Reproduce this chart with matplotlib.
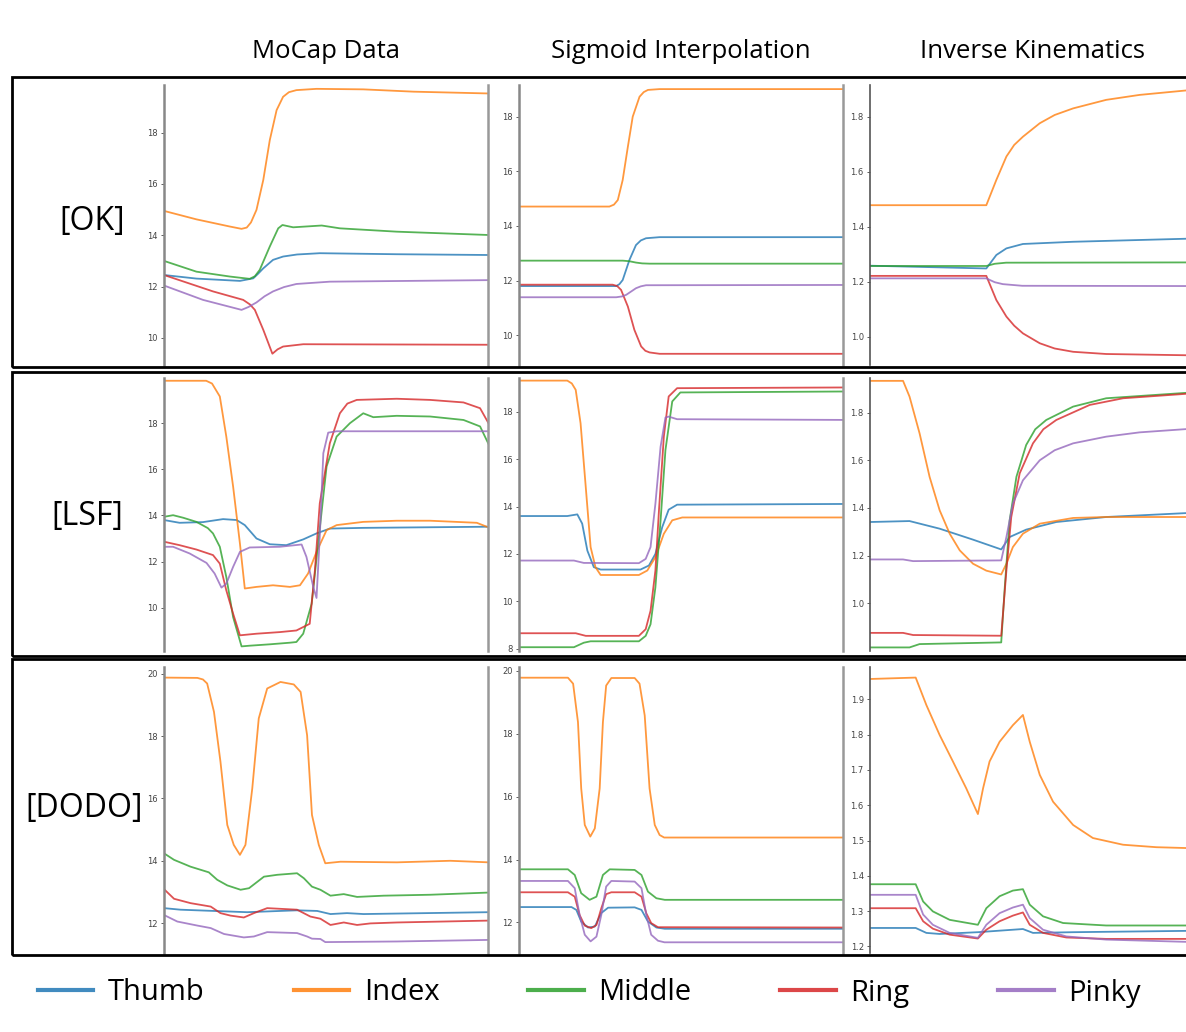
import matplotlib
matplotlib.use("Agg")
import matplotlib.pyplot as plt
from matplotlib.patches import Rectangle
from matplotlib.lines import Line2D

# finger names and matplotlib default colours
fingers = ["Thumb", "Index", "Middle", "Ring", "Pinky"]
colors = ["#1f77b4", "#ff7f0e", "#2ca02c", "#d62728", "#9467bd"]

col_titles = ["MoCap Data", "Sigmoid Interpolation", "Inverse Kinematics"]
row_labels = ["[OK]", "[LSF]", "[DODO]"]

# each curve: list of (time %, value)
ok_mocap = {
    "Thumb": [(0, 12.45), (10, 12.31), (23.4, 12.22), (27.5, 12.32), (29, 12.5), (30.6, 12.71),
              (33.6, 13.04), (36.7, 13.17), (41, 13.25), (48, 13.3), (71.7, 13.26), (100, 13.23)],
    "Index": [(0, 14.95), (10, 14.62), (20.3, 14.34), (23.9, 14.25), (25.5, 14.3), (26.8, 14.5),
              (28.5, 14.99), (30.6, 16.16), (32.6, 17.71), (34.7, 18.88), (36.7, 19.4), (38.5, 19.58),
              (40.8, 19.66), (47, 19.71), (61.4, 19.69), (76.9, 19.6), (100, 19.53)],
    "Middle": [(0, 13.0), (10, 12.58), (20.3, 12.39), (26.4, 12.3), (28, 12.4), (29.5, 12.65),
               (32.6, 13.56), (35.2, 14.27), (36.5, 14.4), (39.8, 14.31), (48.6, 14.38), (54.2, 14.27),
               (71.7, 14.14), (100, 14.01)],
    "Ring": [(0, 12.45), (15.1, 11.81), (24.4, 11.48), (26.5, 11.3), (28, 11.09), (30.6, 10.31),
             (33.4, 9.38), (35, 9.55), (36.7, 9.66), (42.9, 9.75), (100, 9.73)],
    "Pinky": [(0, 12.04), (12, 11.48), (23.9, 11.09), (26, 11.2), (28.5, 11.38), (31, 11.62),
              (33.6, 11.81), (37, 11.98), (40.8, 12.1), (51.1, 12.19), (100, 12.25)],
}
ok_sigmoid = {
    "Thumb": [(0, 11.8), (30, 11.8), (31, 11.87), (32, 12.02), (34.1, 12.76), (36.1, 13.3),
              (37.6, 13.47), (39.2, 13.55), (43.4, 13.59), (100, 13.59)],
    "Index": [(0, 14.71), (27.9, 14.71), (29.3, 14.78), (30.5, 14.95), (32, 15.68), (33.6, 16.9),
              (35.1, 18.0), (37.2, 18.73), (38.5, 18.9), (39.8, 18.98), (43.4, 19.01), (100, 19.01)],
    "Middle": [(0, 12.73), (32, 12.73), (34, 12.71), (36.1, 12.66), (38, 12.63), (40.3, 12.62),
               (100, 12.62)],
    "Ring": [(0, 11.85), (28.9, 11.85), (30.3, 11.8), (31.5, 11.66), (33.6, 11.05), (35.6, 10.2),
             (37.7, 9.59), (39, 9.43), (40.3, 9.37), (43.4, 9.32), (100, 9.32)],
    "Pinky": [(0, 11.39), (30, 11.39), (31.8, 11.42), (33.1, 11.48), (36.1, 11.72), (37.6, 11.79),
              (39.2, 11.83), (100, 11.84)],
}
ok_ik = {
    "Thumb": [(0, 1.258), (35.9, 1.248), (39, 1.297), (42.1, 1.321), (47.2, 1.337), (62.7, 1.345),
              (97.4, 1.356), (100, 1.357)],
    "Index": [(0, 1.478), (35.9, 1.478), (39, 1.57), (42.1, 1.655), (44.5, 1.697), (47.2, 1.727),
              (52.4, 1.776), (57, 1.806), (62.7, 1.83), (72.9, 1.861), (83.2, 1.879), (97.4, 1.895),
              (100, 1.897)],
    "Middle": [(0, 1.257), (35.9, 1.257), (38.5, 1.265), (42, 1.269), (100, 1.27)],
    "Ring": [(0, 1.221), (35.9, 1.221), (39, 1.133), (42.1, 1.073), (44.5, 1.04), (47.2, 1.012),
             (52.4, 0.976), (57, 0.957), (62.7, 0.945), (72.9, 0.937), (100, 0.932)],
    "Pinky": [(0, 1.212), (35.9, 1.212), (38.5, 1.198), (41, 1.191), (47, 1.185), (100, 1.184)],
}

lsf_mocap = {
    "Thumb": [(0, 13.8), (4.8, 13.68), (12, 13.71), (18.2, 13.84), (22.4, 13.8), (24.9, 13.58),
              (28.5, 13.0), (32.6, 12.75), (37.7, 12.71), (42.9, 12.96), (47, 13.22), (51.1, 13.43),
              (61.4, 13.46), (100, 13.51)],
    "Index": [(0, 19.84), (13, 19.84), (14.8, 19.72), (17.2, 19.16), (19.2, 17.42), (21.3, 15.25),
              (23.4, 12.78), (24.9, 10.83), (28.5, 10.9), (33.6, 10.97), (38.8, 10.9), (41.9, 10.97),
              (44.4, 11.48), (47, 12.42), (50.1, 13.36), (53.2, 13.58), (61.4, 13.72), (71.7, 13.77),
              (82, 13.77), (96.4, 13.68), (100, 13.48)],
    "Middle": [(0, 13.94), (2.8, 14.01), (5.9, 13.9), (10, 13.72), (13.5, 13.45), (15.1, 13.22),
               (17.2, 12.64), (19.2, 11.33), (21.3, 9.59), (23.9, 8.32), (26.4, 8.35), (32.6, 8.41),
               (38.8, 8.48), (40.8, 8.51), (42.9, 8.87), (45.5, 10.17), (47.5, 12.78), (50.1, 16.12),
               (53.2, 17.42), (57.3, 18.0), (61.4, 18.43), (64.5, 18.26), (71.7, 18.32), (82, 18.29),
               (92.3, 18.14), (97.4, 17.86), (100, 17.1)],
    "Ring": [(0, 12.86), (4.8, 12.71), (10, 12.52), (15.1, 12.28), (17.2, 11.91), (19.2, 10.75),
             (21.3, 9.74), (23.4, 8.8), (28.5, 8.87), (35.7, 8.94), (40.8, 9.01), (44.9, 9.3),
             (46.5, 11.62), (48, 14.52), (51.1, 17.13), (54.2, 18.43), (56.5, 18.85), (59.4, 19.01),
             (71.7, 19.06), (82, 19.01), (92.3, 18.9), (97.4, 18.65), (100, 18.0)],
    "Pinky": [(0, 12.64), (2.8, 12.64), (7.9, 12.35), (13.1, 11.94), (15.6, 11.48), (17.7, 10.87),
              (19.2, 11.04), (21.3, 11.77), (23.4, 12.42), (26.4, 12.61), (35.7, 12.64), (42.4, 12.74),
              (43.9, 12.2), (46, 10.9), (47, 10.42), (48, 13.07), (49.1, 16.7), (50.6, 17.59),
              (53.2, 17.65), (100, 17.65)],
}
lsf_sigmoid = {
    "Thumb": [(0, 13.6), (14.9, 13.6), (18, 13.67), (19.5, 13.28), (21.1, 12.14), (23.1, 11.44),
              (25.2, 11.34), (37.5, 11.34), (40.1, 11.51), (42.1, 12.0), (44.2, 13.13), (46.2, 13.87),
              (48.8, 14.08), (100, 14.11)],
    "Index": [(0, 19.32), (14.9, 19.32), (16.3, 19.2), (17.5, 18.93), (19, 17.52), (20.6, 14.83),
              (22.1, 12.29), (23.6, 11.44), (25.2, 11.11), (37, 11.11), (39.6, 11.3), (42.1, 11.86),
              (44.7, 12.85), (47.3, 13.42), (50.4, 13.54), (100, 13.54)],
    "Middle": [(0, 8.06), (16.95, 8.06), (20, 8.25), (22.1, 8.31), (37, 8.31), (39.1, 8.54),
               (40.6, 9.03), (42.1, 10.59), (43.7, 13.42), (45.2, 16.39), (47.3, 18.44), (49.8, 18.82),
               (100, 18.86)],
    "Ring": [(0, 8.65), (17.5, 8.65), (20.6, 8.54), (37, 8.54), (39.1, 8.82), (40.6, 9.6),
             (42.1, 11.3), (43.2, 13.84), (44.7, 16.95), (46.2, 18.65), (48.8, 19.0), (100, 19.03)],
    "Pinky": [(0, 11.72), (16.95, 11.72), (20, 11.62), (37, 11.61), (39.1, 11.79), (40.6, 12.29),
              (42.1, 14.12), (43.7, 16.53), (45.2, 17.76), (46.2, 17.8), (48.8, 17.69), (100, 17.66)],
}
lsf_ik = {
    "Thumb": [(0, 1.341), (12.2, 1.345), (21.5, 1.313), (31.8, 1.267), (40.5, 1.226), (43.1, 1.278),
              (48.2, 1.309), (57.5, 1.341), (72.9, 1.362), (100, 1.38)],
    "Index": [(0, 1.933), (10.2, 1.933), (12.2, 1.867), (15.3, 1.713), (18.4, 1.53), (21.5, 1.39),
              (24.6, 1.292), (27.7, 1.222), (31.8, 1.166), (35.9, 1.137), (40.5, 1.121), (42.1, 1.166),
              (44.1, 1.236), (47.2, 1.292), (52.4, 1.334), (62.7, 1.358), (72.9, 1.362), (100, 1.362)],
    "Middle": [(0, 0.815), (12.2, 0.815), (15.3, 0.829), (40.5, 0.836), (41.6, 1.068), (43.1, 1.348),
               (45.2, 1.531), (48.2, 1.664), (51, 1.73), (54.4, 1.769), (62.7, 1.825), (72.9, 1.86),
               (100, 1.885)],
    "Ring": [(0, 0.876), (10.2, 0.876), (13.3, 0.867), (40.5, 0.864), (42.1, 1.138), (43.6, 1.362),
             (46.2, 1.545), (50.3, 1.671), (53.5, 1.73), (57.5, 1.769), (67.8, 1.832), (78.1, 1.86),
             (100, 1.881)],
    "Pinky": [(0, 1.184), (10.2, 1.184), (13.3, 1.177), (40.5, 1.18), (42.1, 1.278), (44.1, 1.418),
              (47.2, 1.516), (52.4, 1.6), (57, 1.642), (62.7, 1.671), (72.9, 1.699), (83.2, 1.717),
              (100, 1.733)],
}

dodo_mocap = {
    "Thumb": [(0, 12.48), (5.1, 12.43), (20.5, 12.37), (25.6, 12.35), (41, 12.41), (47.2, 12.39),
              (51.3, 12.29), (56.4, 12.32), (61.5, 12.29), (100, 12.35)],
    "Index": [(0, 19.88), (10.3, 19.87), (12, 19.82), (13.3, 19.69), (15.4, 18.78), (17.4, 17.18),
              (19.5, 15.15), (21.5, 14.51), (23.4, 14.19), (25.1, 14.51), (27.2, 16.32), (29.2, 18.57),
              (31.8, 19.53), (35.9, 19.74), (40, 19.66), (42.1, 19.42), (44.1, 18.03), (45.6, 15.47),
              (47.7, 14.51), (49.7, 13.92), (54.4, 13.97), (71.8, 13.95), (88.2, 14.0), (100, 13.95)],
    "Middle": [(0, 14.24), (3.1, 14.03), (8.2, 13.81), (13.8, 13.63), (16.4, 13.39), (19.5, 13.21),
               (23.6, 13.07), (26.2, 13.12), (30.8, 13.49), (34.9, 13.55), (41, 13.6), (43.1, 13.44),
               (45.6, 13.17), (48.2, 13.07), (51.3, 12.88), (55.4, 12.93), (59.5, 12.84), (67.7, 12.88),
               (82.1, 12.91), (100, 12.98)],
    "Ring": [(0, 13.09), (3.1, 12.78), (8.2, 12.64), (14.4, 12.53), (17.4, 12.32), (20.5, 12.24),
             (24.6, 12.18), (27.7, 12.32), (31.8, 12.48), (41, 12.43), (45.1, 12.21), (48.2, 12.14),
             (51.3, 11.94), (55.4, 12.02), (59.5, 11.94), (63.6, 11.99), (71.8, 12.02), (100, 12.08)],
    "Pinky": [(0, 12.26), (4.1, 12.05), (10.3, 11.92), (14.4, 11.84), (18.5, 11.65), (24.6, 11.54),
              (27.7, 11.57), (31.8, 11.71), (41, 11.68), (44.1, 11.57), (45.6, 11.5), (48.2, 11.49),
              (49.7, 11.39), (71.8, 11.41), (100, 11.46)],
}
dodo_sigmoid = {
    "Thumb": [(0, 12.49), (16.2, 12.49), (17.7, 12.4), (19.2, 12.03), (21.3, 11.84), (23.4, 11.87),
              (25.4, 12.3), (27.5, 12.47), (35.7, 12.48), (37.8, 12.4), (39.8, 12.03), (42.4, 11.84),
              (45, 11.8), (100, 11.8)],
    "Index": [(0, 19.78), (15.1, 19.78), (16.7, 19.59), (18.2, 18.37), (19.2, 16.26), (20.3, 15.1),
              (22, 14.73), (23.4, 14.99), (24.9, 16.26), (25.9, 18.37), (26.9, 19.53), (28.5, 19.77),
              (35.7, 19.77), (37.2, 19.59), (38.8, 18.58), (40.3, 16.26), (41.9, 15.1), (43.4, 14.78),
              (44.8, 14.7), (100, 14.7)],
    "Middle": [(0, 13.69), (15.1, 13.69), (17.2, 13.51), (19.2, 12.93), (21.8, 12.72), (23.9, 12.82),
               (25.9, 13.51), (28, 13.69), (35.7, 13.67), (37.8, 13.51), (39.8, 12.98), (42.4, 12.77),
               (45, 12.72), (100, 12.72)],
    "Ring": [(0, 12.96), (15.1, 12.96), (17.2, 12.82), (18.7, 12.24), (20.3, 11.9), (22.3, 11.82),
             (23.9, 11.92), (25.4, 12.45), (26.9, 12.9), (28.5, 12.96), (35.7, 12.96), (37.8, 12.82),
             (39.3, 12.29), (40.8, 11.98), (42.9, 11.85), (100, 11.84)],
    "Pinky": [(0, 13.32), (15.1, 13.32), (17.2, 13.09), (18.7, 12.24), (20.3, 11.61), (22.1, 11.4),
              (23.9, 11.55), (25.4, 12.24), (26.9, 13.14), (28.5, 13.32), (35.7, 13.3), (37.8, 13.09),
              (39.3, 12.24), (40.8, 11.61), (42.9, 11.42), (44.9, 11.37), (100, 11.37)],
}
dodo_ik = {
    "Thumb": [(0, 1.252), (14.1, 1.252), (17.4, 1.238), (21.5, 1.235), (33.3, 1.24), (47.2, 1.249),
              (50.3, 1.238), (62.7, 1.24), (100, 1.244)],
    "Index": [(0, 1.958), (14.1, 1.962), (17.4, 1.884), (21.5, 1.799), (25.6, 1.724), (29.7, 1.648),
              (33.3, 1.575), (34.9, 1.648), (36.9, 1.724), (40, 1.78), (44.1, 1.827), (47.2, 1.856),
              (49.3, 1.78), (52.4, 1.686), (56.5, 1.61), (62.7, 1.544), (68.8, 1.507), (78.1, 1.488),
              (88.4, 1.481), (100, 1.478)],
    "Middle": [(0, 1.376), (14.1, 1.376), (16.4, 1.327), (19.4, 1.299), (24.6, 1.275), (33.3, 1.261),
               (35.9, 1.308), (40, 1.342), (44.1, 1.358), (47.2, 1.362), (49.3, 1.318), (53.4, 1.285),
               (59.6, 1.266), (72.9, 1.259), (100, 1.259)],
    "Ring": [(0, 1.308), (14.1, 1.308), (16.4, 1.271), (19.4, 1.25), (24.6, 1.233), (33.3, 1.222),
             (35.9, 1.247), (40, 1.271), (44.1, 1.287), (47.2, 1.296), (49.3, 1.261), (53.4, 1.238),
             (60.6, 1.225), (72.9, 1.221), (100, 1.221)],
    "Pinky": [(0, 1.346), (14.1, 1.346), (16.4, 1.29), (19.4, 1.261), (24.6, 1.238), (33.3, 1.224),
              (35.9, 1.261), (40, 1.294), (44.1, 1.31), (47.2, 1.318), (49.3, 1.28), (53.4, 1.247),
              (60.6, 1.228), (72.9, 1.219), (100, 1.212)],
}

panels = [[ok_mocap, ok_sigmoid, ok_ik],
          [lsf_mocap, lsf_sigmoid, lsf_ik],
          [dodo_mocap, dodo_sigmoid, dodo_ik]]

# visible y range of each (cropped) screenshot panel
ylims = [[(8.94, 19.86), (8.91, 19.16), (0.897, 1.915)],
         [(8.12, 19.96), (7.9, 19.43), (0.80, 1.945)],
         [(11.04, 20.22), (11.03, 20.12), (1.181, 1.992)]]
yticks = [[[10, 12, 14, 16, 18], [10, 12, 14, 16, 18], [1.0, 1.2, 1.4, 1.6, 1.8]],
          [[10, 12, 14, 16, 18], [8, 10, 12, 14, 16, 18], [1.0, 1.2, 1.4, 1.6, 1.8]],
          [[12, 14, 16, 18, 20], [12, 14, 16, 18, 20], [1.2, 1.3, 1.4, 1.5, 1.6, 1.7, 1.8, 1.9]]]

W, H = 1186, 1032
fig = plt.figure(figsize=(W / 100, H / 100), dpi=100)


def fig_rect(x0, y0, x1, y1):
    # pixel box (top-left origin) -> figure fraction
    return [x0 / W, 1 - y1 / H, (x1 - x0) / W, (y1 - y0) / H]


col_x = [(164, 488.5), (519, 843), (870, 1194)]
row_y = [(85, 365), (378, 651), (667, 953)]
box_y = [(77, 367), (372, 656), (659, 955)]

for r in range(3):
    by0, by1 = box_y[r]
    fig.patches.append(Rectangle((12 / W, 1 - by1 / H), 1.2, (by1 - by0) / H,
                                 transform=fig.transFigure, fill=False,
                                 edgecolor="black", linewidth=2.0, zorder=0))
    for c in range(3):
        ax = fig.add_axes(fig_rect(col_x[c][0], row_y[r][0], col_x[c][1], row_y[r][1]))
        data = panels[r][c]
        for name, color in zip(fingers, colors):
            t = [p[0] for p in data[name]]
            v = [p[1] for p in data[name]]
            ax.plot(t, v, color=color, lw=1.3, alpha=0.8)
        ax.set_xlim(0, 100)
        ax.set_ylim(*ylims[r][c])
        ax.set_yticks(yticks[r][c])
        ax.set_xticks([])
        ax.tick_params(axis="y", labelsize=6, length=2.5, width=0.6,
                       colors="#444444", pad=2)
        ax.spines["top"].set_visible(False)
        ax.spines["bottom"].set_visible(False)
        ax.spines["left"].set_color("#555555" if c == 2 else "#888888")
        ax.spines["left"].set_linewidth(1.2 if c == 2 else 1.8)
        ax.spines["right"].set_color("#999999")
        ax.spines["right"].set_linewidth(1.8)
        ax.patch.set_alpha(0)

# column headings
for title, (x0, x1) in zip(col_titles, col_x):
    fig.text((x0 + x1) / 2 / W, 1 - 52 / H, title, ha="center", va="center",
             fontsize=18.5, family="Open Sans")

# row labels
for label, (x, y) in zip(row_labels, [(92, 222), (87, 516), (84, 808)]):
    fig.text(x / W, 1 - y / H, label, ha="center", va="center",
             fontsize=23, family="Open Sans")

handles = [Line2D([], [], color=c, lw=3, alpha=0.85) for c in colors]
fig.legend(handles, fingers, loc="center left", bbox_to_anchor=(38 / W, 1 - 993 / H),
           ncol=5, frameon=False, prop={"family": "Open Sans", "size": 21},
           handlelength=1.9, handletextpad=0.5, columnspacing=3.05,
           borderaxespad=0, borderpad=0)

fig.savefig("out.png", dpi=100)
